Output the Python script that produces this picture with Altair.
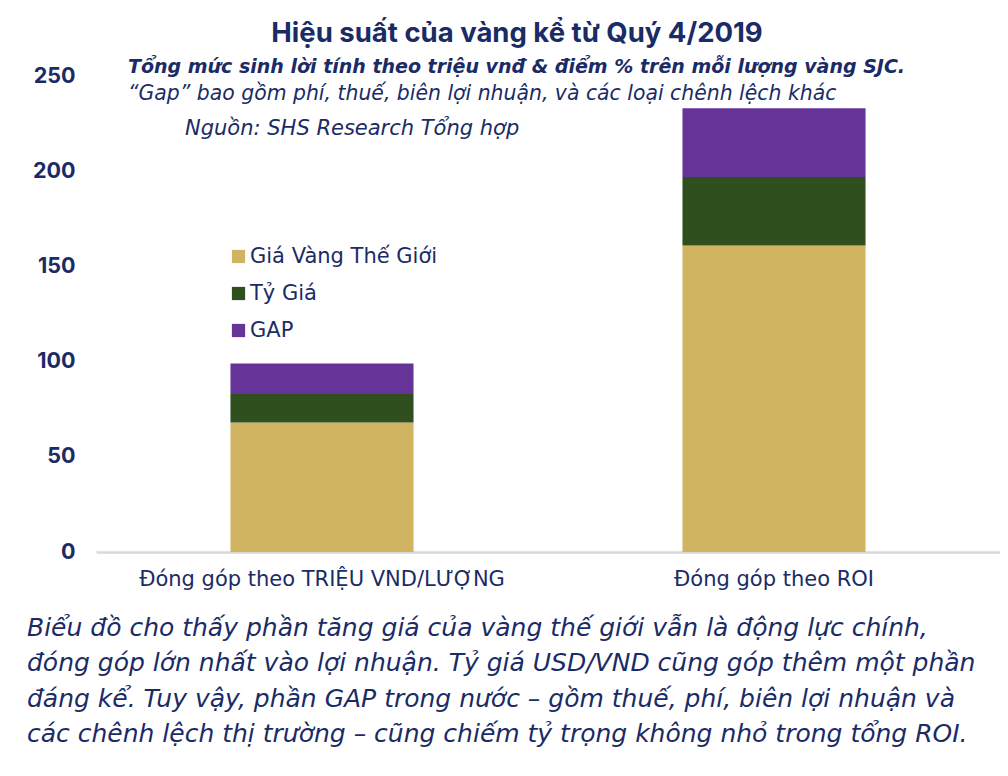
import altair as alt
import pandas as pd

categories = ["Đóng góp theo TRIỆU VND/LƯỢNG", "Đóng góp theo ROI"]
components = ["Giá Vàng Thế Giới", "Tỷ Giá", "GAP"]
gold_vals = [68, 161]
fx_vals = [15, 36]
gap_vals = [16, 36]
colors = ["#D1B462", "#2F4F1E", "#663399"]
y_ticks = [0, 50, 100, 150, 200, 250]

title_text = "Hiệu suất của vàng kể từ Quý 4/2019"
sub1_text = "Tổng mức sinh lời tính theo triệu vnđ & điểm % trên mỗi lượng vàng SJC."
sub2_text = "“Gap” bao gồm phí, thuế, biên lợi nhuận, và các loại chênh lệch khác"
source_text = "Nguồn: SHS Research Tổng hợp"
para_lines = [
    "Biểu đồ cho thấy phần tăng giá của vàng thế giới vẫn là động lực chính,",
    "đóng góp lớn nhất vào lợi nhuận. Tỷ giá USD/VND cũng góp thêm một phần",
    "đáng kể. Tuy vậy, phần GAP trong nước – gồm thuế, phí, biên lợi nhuận và",
    "các chênh lệch thị trường – cũng chiếm tỷ trọng không nhỏ trong tổng ROI.",
]

rows = []
for ci, cat in enumerate(categories):
    for k, (comp, vals) in enumerate(zip(components, [gold_vals, fx_vals, gap_vals])):
        rows.append({"cat": cat, "comp": comp, "value": vals[ci], "ord": k})
df = pd.DataFrame(rows)

NAVY = "#1a2b66"
FONT = "Inter"
WIDE = "DejaVu Sans"

bars = alt.Chart(df).mark_bar().encode(
    x=alt.X("cat:N", sort=categories, title=None,
            scale=alt.Scale(paddingInner=0.595, paddingOuter=0.2975),
            axis=alt.Axis(labelAngle=0, labelFontSize=21, labelColor=NAVY,
                          labelFont=WIDE, ticks=False, labelPadding=16, labelLimit=0,
                          domainColor="#d9d9d9", domainWidth=2.5)),
    y=alt.Y("value:Q", stack="zero", title=None,
            scale=alt.Scale(domain=[0, 250], nice=False),
            axis=alt.Axis(values=y_ticks, grid=False, domain=False, ticks=False,
                          labelFontSize=21.5, labelFontWeight="bold", labelColor=NAVY,
                          labelFont=FONT, labelPadding=21)),
    color=alt.Color("comp:N", sort=components,
                    scale=alt.Scale(domain=components, range=colors),
                    legend=alt.Legend(title=None, orient="none", legendX=132, legendY=170,
                                      symbolType="square", symbolSize=175,
                                      symbolStrokeWidth=0, labelFontSize=21,
                                      labelColor=NAVY, labelFont=WIDE, labelLimit=0,
                                      rowPadding=15, labelOffset=1, padding=0)),
    order=alt.Order("ord:Q"),
)

one = alt.Data(values=[{}])

def txt(text, x, y, size, weight="normal", style="normal", align="left", font=WIDE):
    return alt.Chart(one).mark_text(
        align=align, baseline="alphabetic", fontSize=size, fontWeight=weight,
        fontStyle=style, font=font, color=NAVY,
    ).encode(x=alt.value(x), y=alt.value(y), text=alt.value(text))

title = txt(title_text, 421, -34, 27.5, weight="bold", align="center", font=FONT)
sub1 = txt(sub1_text, 32, -3, 19, weight="bold", style="italic")
sub2 = txt(sub2_text, 32, 24, 20.4, style="italic")
src = txt(source_text, 89, 59, 21, style="italic")

para = alt.Chart(one).mark_text(
    align="left", baseline="alphabetic", fontSize=25, fontStyle="italic",
    font=WIDE, color=NAVY, lineHeight=35.3,
).encode(x=alt.value(-69), y=alt.value(560), text=alt.value(para_lines))

chart = alt.layer(bars, title, sub1, sub2, src, para).properties(
    width=904, height=476,
    autosize=alt.AutoSizeParams(type="none"),
    padding={"left": 88, "top": 68, "right": 0, "bottom": 200},
).configure_view(stroke=None)

chart.save("out.html", embed_options={"renderer": "svg", "actions": False})
